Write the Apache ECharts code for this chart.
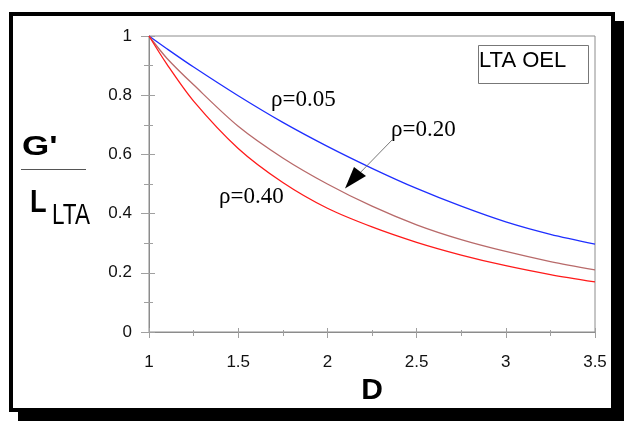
<!DOCTYPE html>
<html>
<head>
<meta charset="utf-8">
<script src="https://cdn.jsdelivr.net/npm/echarts@6/dist/echarts.min.js"></script>
<style>
  html, body { margin: 0; padding: 0; background: #fff; }
  #wrap { position: relative; width: 624px; height: 421px; overflow: hidden; background: #fff; }
  #frame { position: absolute; left: 9px; top: 12px; width: 606px; height: 400px; box-sizing: border-box;
           border: 4px solid #000; background: #fff; box-shadow: 9px 9px 0 #000; }
  #chart { position: absolute; left: 0; top: 0; width: 624px; height: 421px; }
</style>
</head>
<body>
<div id="wrap">
  <div id="frame"></div>
  <div id="chart"></div>
</div>
<script>
// D values and G'/L_LTA
var dValues = [1, 1.1, 1.25, 1.5, 1.75, 2, 2.25, 2.5, 2.75, 3, 3.25, 3.5];
var rho005 = [1, 0.957, 0.895, 0.798, 0.708, 0.627, 0.553, 0.485, 0.425, 0.372, 0.33, 0.297];
var rho020 = [1, 0.925, 0.835, 0.695, 0.588, 0.5, 0.425, 0.362, 0.312, 0.272, 0.238, 0.21];
var rho040 = [1, 0.905, 0.78, 0.62, 0.505, 0.418, 0.355, 0.303, 0.26, 0.224, 0.194, 0.169];
var seriesNames = ['\u03c1=0.05', '\u03c1=0.20', '\u03c1=0.40'];
var seriesColors = ['#1f2fff', '#b86a6a', '#ff1a1a'];

function pairs(ys) {
    return dValues.map(function (d, i) { return [d, ys[i]]; });
}

var chart = echarts.init(document.getElementById('chart'));
var axisGrey = '#8c8c8c';
var tickGrey = '#a0a0a0';
var sans = '"Liberation Sans", Arial, sans-serif';
var serif = '"Liberation Serif", "Times New Roman", serif';

var option = {
    animation: false,
    grid: { left: 149, right: 29, top: 36, bottom: 89, show: true, borderColor: axisGrey, borderWidth: 1, backgroundColor: 'transparent' },
    xAxis: [{
        type: 'value', position: 'bottom', min: 1, max: 3.5, interval: 0.5,
        name: 'D', nameLocation: 'middle', nameGap: 41,
        nameTextStyle: { fontFamily: sans, fontSize: 30, fontWeight: 'bold', color: '#000' },
        axisLine: { show: true, lineStyle: { color: axisGrey, width: 1 } },
        axisTick: { show: true, inside: false, length: 6, lineStyle: { color: tickGrey } },
        minorTick: { show: true, splitNumber: 2, length: 4, lineStyle: { color: tickGrey } },
        axisLabel: { margin: 22, fontFamily: sans, fontSize: 17, color: '#111' },
        splitLine: { show: false }
    }, {
        type: 'value', position: 'bottom', min: 1, max: 3.5, interval: 0.5,
        axisLine: { show: false },
        axisTick: { show: true, inside: true, length: 4, lineStyle: { color: tickGrey } },
        minorTick: { show: true, splitNumber: 2, length: 2, lineStyle: { color: tickGrey } },
        axisLabel: { show: false },
        splitLine: { show: false }
    }],
    yAxis: [{
        type: 'value', position: 'left', min: 0, max: 1, interval: 0.2,
        axisLine: { show: true, lineStyle: { color: axisGrey, width: 1 } },
        axisTick: { show: true, inside: false, length: 8, lineStyle: { color: tickGrey } },
        minorTick: { show: true, splitNumber: 2, length: 5, lineStyle: { color: tickGrey } },
        axisLabel: { margin: 17, fontFamily: sans, fontSize: 17, color: '#111' },
        splitLine: { show: false }
    }, {
        type: 'value', position: 'left', min: 0, max: 1, interval: 0.2,
        axisLine: { show: false },
        axisTick: { show: true, inside: true, length: 6, lineStyle: { color: tickGrey } },
        minorTick: { show: true, splitNumber: 2, length: 4, lineStyle: { color: tickGrey } },
        axisLabel: { show: false },
        splitLine: { show: false }
    }],
    series: [rho005, rho020, rho040].map(function (ys, i) {
        return {
            name: seriesNames[i], type: 'line', xAxisIndex: 0, yAxisIndex: 0,
            data: pairs(ys), smooth: 0.3, showSymbol: false, symbol: 'none',
            lineStyle: { color: seriesColors[i], width: 1.3 }, z: 3
        };
    }),
    graphic: [
        // y axis title G' / L_LTA
        { type: 'text', x: 22, y: 147, z: 10, scaleX: 1.25, style: { text: "G'", font: 'bold 28px ' + sans, fill: '#000', verticalAlign: 'middle' } },
        { type: 'line', z: 10, shape: { x1: 21, y1: 169.5, x2: 86, y2: 169.5 }, style: { stroke: '#555', lineWidth: 1 } },
        { type: 'text', x: 30, y: 203, z: 10, scaleX: 0.85, style: { text: 'L', font: 'bold 32px ' + sans, fill: '#000', verticalAlign: 'middle' } },
        { type: 'text', x: 52, y: 216, z: 10, scaleX: 0.75, style: { text: 'LTA', font: '30px ' + sans, fill: '#000', verticalAlign: 'middle' } },
        // LTA OEL box
        { type: 'rect', z: 10, shape: { x: 478.5, y: 45.5, width: 110, height: 38 }, style: { stroke: '#777', fill: '#fff', lineWidth: 1 } },
        { type: 'text', x: 479, y: 61, z: 11, style: { text: 'LTA OEL', font: '22px ' + sans, fill: '#000', verticalAlign: 'middle' } },
        // curve labels
        { type: 'text', x: 271, y: 100, z: 10, style: { text: seriesNames[0], font: '23px ' + serif, fill: '#000', verticalAlign: 'middle' } },
        { type: 'text', x: 391, y: 129.5, z: 10, style: { text: seriesNames[1], font: '23px ' + serif, fill: '#000', verticalAlign: 'middle' } },
        { type: 'text', x: 219, y: 197, z: 10, style: { text: seriesNames[2], font: '23px ' + serif, fill: '#000', verticalAlign: 'middle' } },
        // arrow to the rho=0.20 curve
        { type: 'line', z: 10, shape: { x1: 393, y1: 139, x2: 355, y2: 178 }, style: { stroke: '#777', lineWidth: 1 } },
        { type: 'polygon', z: 10, shape: { points: [[354, 167], [366, 176], [345, 188.5]] }, style: { fill: '#000' } }
    ]
};

chart.setOption(option);
</script>
</body>
</html>
